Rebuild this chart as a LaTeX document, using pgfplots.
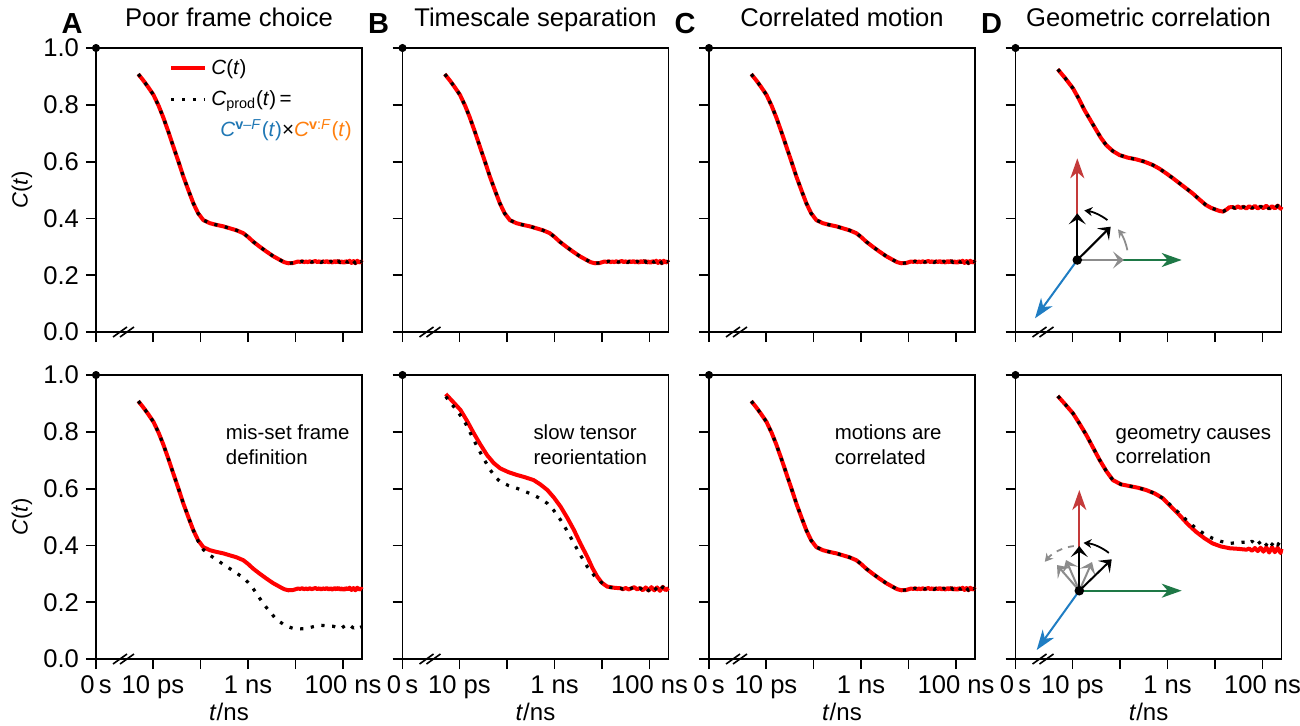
\documentclass[border=0pt]{standalone}
\usepackage{fontspec}
\setmainfont{Liberation Sans}
\usepackage{pgfplots}
\usepackage{pgfplotstable}
\pgfplotsset{compat=1.18}
\usetikzlibrary{arrows.meta}

\definecolor{cblue}{RGB}{31,119,180}
\definecolor{corange}{RGB}{255,127,14}
\definecolor{ared}{RGB}{196,58,58}
\definecolor{agreen}{RGB}{30,120,70}
\definecolor{ablue}{RGB}{31,125,195}
\definecolor{agray}{RGB}{140,140,140}

% x = log10(t/ns); left edge (-3.2) is t = 0 s (axis break)
\pgfplotstableread{
t C
-2.31 0.908
-2.20 0.885
-2.10 0.862
-1.99 0.835
-1.88 0.796
-1.78 0.754
-1.67 0.702
-1.57 0.652
-1.46 0.598
-1.36 0.547
-1.25 0.497
-1.15 0.453
-1.05 0.418
-0.94 0.394
-0.80 0.383
-0.66 0.377
-0.52 0.372
-0.38 0.365
-0.24 0.358
-0.10 0.348
0.00 0.335
0.11 0.318
0.25 0.300
0.39 0.283
0.53 0.267
0.67 0.254
0.76 0.246
0.85 0.242
0.95 0.243
1.05 0.248
1.10 0.247
1.14 0.249
1.18 0.246
1.22 0.248
1.26 0.246
1.30 0.249
1.34 0.246
1.38 0.248
1.42 0.250
1.46 0.246
1.50 0.249
1.54 0.245
1.58 0.249
1.62 0.246
1.66 0.250
1.70 0.245
1.74 0.249
1.78 0.244
1.82 0.250
1.86 0.245
1.90 0.251
1.94 0.244
1.98 0.249
2.02 0.243
2.06 0.250
2.10 0.245
2.14 0.251
2.18 0.243
2.22 0.250
2.26 0.242
2.30 0.251
2.34 0.244
2.38 0.249
2.40 0.245
}\base

\pgfplotstableread{
t C
-2.31 0.908
-2.20 0.885
-2.10 0.862
-1.99 0.835
-1.88 0.796
-1.78 0.754
-1.67 0.702
-1.57 0.652
-1.46 0.598
-1.36 0.547
-1.25 0.497
-1.15 0.453
-1.05 0.415
-0.94 0.385
-0.80 0.365
-0.66 0.350
-0.52 0.333
-0.38 0.318
-0.24 0.302
-0.10 0.287
0.00 0.270
0.11 0.248
0.20 0.225
0.32 0.196
0.45 0.168
0.57 0.145
0.67 0.131
0.80 0.116
0.95 0.108
1.10 0.106
1.24 0.108
1.38 0.114
1.52 0.119
1.65 0.117
1.80 0.115
1.86 0.112
1.92 0.116
1.98 0.110
2.04 0.117
2.10 0.111
2.16 0.117
2.22 0.109
2.28 0.116
2.34 0.110
2.40 0.114
}\Abot

\pgfplotstableread{
t C
-2.29 0.933
-2.15 0.908
-1.98 0.877
-1.84 0.838
-1.70 0.795
-1.56 0.755
-1.42 0.718
-1.28 0.690
-1.14 0.671
-0.97 0.658
-0.79 0.648
-0.62 0.640
-0.44 0.630
-0.30 0.615
-0.15 0.595
-0.01 0.568
0.13 0.536
0.27 0.497
0.41 0.454
0.55 0.405
0.69 0.360
0.80 0.320
0.90 0.290
1.00 0.268
1.11 0.255
1.25 0.251
1.39 0.249
1.44 0.246
1.50 0.250
1.56 0.245
1.62 0.249
1.68 0.253
1.74 0.245
1.80 0.250
1.86 0.242
1.92 0.252
1.98 0.241
2.04 0.253
2.10 0.242
2.16 0.252
2.22 0.240
2.28 0.254
2.34 0.242
2.40 0.250
}\Bbotred

\pgfplotstableread{
t C
-2.29 0.924
-2.10 0.884
-1.91 0.842
-1.77 0.795
-1.63 0.748
-1.49 0.705
-1.35 0.665
-1.24 0.640
-1.14 0.624
-0.97 0.611
-0.79 0.601
-0.62 0.590
-0.44 0.577
-0.30 0.565
-0.15 0.548
-0.01 0.522
0.13 0.489
0.27 0.450
0.41 0.407
0.55 0.365
0.69 0.325
0.83 0.295
0.97 0.272
1.08 0.258
1.18 0.252
1.25 0.251
1.39 0.249
1.44 0.246
1.50 0.250
1.56 0.245
1.62 0.249
1.68 0.253
1.74 0.245
1.80 0.250
1.86 0.242
1.92 0.252
1.98 0.241
2.04 0.253
2.10 0.242
2.16 0.252
2.22 0.240
2.28 0.254
2.34 0.242
2.40 0.250
}\Bbotblack

\pgfplotstableread{
t C
-2.31 0.925
-2.15 0.893
-1.99 0.858
-1.87 0.822
-1.75 0.782
-1.62 0.745
-1.50 0.711
-1.40 0.683
-1.29 0.658
-1.15 0.637
-1.01 0.623
-0.84 0.614
-0.66 0.608
-0.49 0.600
-0.31 0.588
-0.17 0.575
-0.03 0.559
0.11 0.542
0.25 0.524
0.39 0.506
0.53 0.488
0.67 0.467
0.81 0.447
0.92 0.437
1.03 0.430
1.10 0.426
1.17 0.424
1.25 0.432
1.30 0.439
1.37 0.440
1.42 0.436
1.48 0.442
1.54 0.437
1.60 0.441
1.66 0.435
1.72 0.443
1.78 0.436
1.84 0.444
1.90 0.435
1.96 0.442
2.02 0.436
2.08 0.445
2.14 0.434
2.20 0.443
2.26 0.435
2.32 0.445
2.38 0.434
2.40 0.441
}\Dtop

\pgfplotstableread{
t C
-2.31 0.926
-2.15 0.896
-1.99 0.865
-1.85 0.828
-1.71 0.789
-1.57 0.745
-1.43 0.701
-1.29 0.662
-1.15 0.630
-0.98 0.615
-0.80 0.609
-0.62 0.603
-0.45 0.595
-0.27 0.583
-0.10 0.566
0.07 0.541
0.25 0.513
0.42 0.486
0.60 0.460
0.78 0.440
0.95 0.425
1.13 0.414
1.31 0.407
1.48 0.410
1.66 0.412
1.72 0.406
1.78 0.415
1.84 0.405
1.90 0.417
1.96 0.404
2.02 0.415
2.08 0.402
2.14 0.418
2.20 0.403
2.26 0.416
2.32 0.401
2.38 0.417
2.40 0.406
}\Dbotblack

\pgfplotstableread{
t C
-2.31 0.926
-2.15 0.896
-1.99 0.865
-1.85 0.828
-1.71 0.789
-1.57 0.745
-1.43 0.701
-1.29 0.662
-1.15 0.630
-0.98 0.615
-0.80 0.609
-0.62 0.603
-0.45 0.595
-0.27 0.583
-0.10 0.566
0.07 0.537
0.25 0.507
0.42 0.476
0.60 0.448
0.78 0.425
0.95 0.407
1.13 0.396
1.31 0.390
1.48 0.388
1.66 0.385
1.72 0.389
1.78 0.381
1.84 0.391
1.90 0.380
1.96 0.392
2.02 0.378
2.08 0.393
2.14 0.375
2.20 0.394
2.26 0.376
2.32 0.392
2.38 0.373
2.40 0.388
}\Dbotred

\pgfplotsset{
  panel/.style={
    scale only axis, width=133pt, height=142pt,
    xmin=-3.2, xmax=2.4, ymin=0, ymax=1,
    xtick={-3.2,-2,-1,0,1,2}, ytick={0,0.2,0.4,0.6,0.8,1},
    xticklabels={}, yticklabels={},
    tick align=outside, major tick length=5pt,
    xtick pos=bottom, ytick pos=left,
    axis line style={line width=0.9pt},
    every tick/.append style={black, line width=0.9pt},
    tick label style={font=\fontsize{12.8}{14}\selectfont},
    clip=false,
    title style={at={(axis description cs:0.5,1.034)}, anchor=base, font=\fontsize{12.8}{14}\selectfont},
  },
  ylab/.style={
    yticklabels={0.0,0.2,0.4,0.6,0.8,1.0},
    ylabel={\textit{C}(\textit{t})},
    ylabel style={at={(axis description cs:-0.278,0.5)}, anchor=center, font=\fontsize{11}{13}\selectfont},
  },
  xlab/.style={
    xticklabels={0\,s,10 ps,,1 ns,,100 ns},
    xlabel={\textit{t}/ns},
    xlabel style={at={(axis description cs:0.5,-0.186)}, anchor=center, font=\fontsize{12}{14}\selectfont},
  },
  redc/.style={red, line width=2pt, no marks, line join=round},
  blkd/.style={black, line width=1.6pt, no marks, line join=round, dash pattern=on 1.6pt off 3.8pt},
}

\newcommand{\decor}{%
  \addplot[only marks, mark=*, mark size=1.8pt, black] coordinates {(-3.2,1)};
  \draw[line width=0.8pt] (axis cs:-2.842,-0.0176) -- (axis cs:-2.547,0.0176);
  \draw[line width=0.8pt] (axis cs:-2.695,-0.0176) -- (axis cs:-2.40,0.0176);
}
\newcommand{\letter}[1]{\node[font=\bfseries\fontsize{14.5}{16}\selectfont, anchor=base] at (axis description cs:-0.09,1.052) {#1};}
\newcommand{\annot}[2]{\node[align=left, anchor=west, font=\fontsize{10.2}{12.2}\selectfont] at (axis description cs:#1,0.754) {#2};}

\begin{document}
\begin{tikzpicture}
\path[use as bounding box] (0,0) rectangle (650pt,362.5pt);

% ---------- top row ----------
\begin{axis}[panel, ylab, at={(48pt,196.5pt)}, anchor=south west, title={Poor frame choice},
  legend style={draw=none, fill=none, at={(axis description cs:0.274,0.975)}, anchor=north west,
    font=\fontsize{10.3}{12}\selectfont, row sep=2.5pt, inner sep=0pt},
  legend cell align=left,
  legend image code/.code={\draw[#1] (0pt,0pt) -- (17pt,0pt);}]
\addplot[redc] table[x=t,y=C] {\base};
\addlegendentry{\textit{C}(\textit{t})}
\addplot[blkd] table[x=t,y=C] {\base};
\addlegendentry{\textit{C}\textsubscript{prod}(\textit{t})\,=}
\decor
\letter{A}
\node[anchor=west, font=\fontsize{10.3}{12}\selectfont, inner sep=0pt] at (axis description cs:0.466,0.711)
  {{\color{cblue}\textit{C}\textsuperscript{\textbf{v}\textendash\textit{F}}(\textit{t})}×{\color{corange}\textit{C}\textsuperscript{\textbf{v}:\textit{F}}(\textit{t})}};
\end{axis}

\begin{axis}[panel, at={(201.25pt,196.5pt)}, anchor=south west, title={Timescale separation}]
\addplot[redc] table[x=t,y=C] {\base};
\addplot[blkd] table[x=t,y=C] {\base};
\decor
\letter{B}
\end{axis}

\begin{axis}[panel, at={(354.5pt,196.5pt)}, anchor=south west, title={Correlated motion}]
\addplot[redc] table[x=t,y=C] {\base};
\addplot[blkd] table[x=t,y=C] {\base};
\decor
\letter{C}
\end{axis}

\begin{axis}[panel, at={(507.75pt,196.5pt)}, anchor=south west, title={Geometric correlation}]
\addplot[redc] table[x=t,y=C] {\Dtop};
\addplot[blkd] table[x=t,y=C] {\Dtop};
\decor
\letter{D}
\end{axis}

% ---------- bottom row ----------
\begin{axis}[panel, ylab, xlab, at={(48pt,33pt)}, anchor=south west]
\addplot[redc] table[x=t,y=C] {\base};
\addplot[blkd] table[x=t,y=C] {\Abot};
\decor
\annot{0.462}{mis-set frame\\definition}
\end{axis}

\begin{axis}[panel, xlab, at={(201.25pt,33pt)}, anchor=south west]
\addplot[redc] table[x=t,y=C] {\Bbotred};
\addplot[blkd] table[x=t,y=C] {\Bbotblack};
\decor
\annot{0.466}{slow tensor\\reorientation}
\end{axis}

\begin{axis}[panel, xlab, at={(354.5pt,33pt)}, anchor=south west]
\addplot[redc] table[x=t,y=C] {\base};
\addplot[blkd] table[x=t,y=C] {\base};
\decor
\annot{0.447}{motions are\\correlated}
\end{axis}

\begin{axis}[panel, xlab, at={(507.75pt,33pt)}, anchor=south west]
\addplot[redc] table[x=t,y=C] {\Dbotred};
\addplot[blkd] table[x=t,y=C] {\Dbotblack};
\decor
\annot{0.350}{geometry causes\\correlation}
\end{axis}

% ---------- frame diagrams (pixel units, y up) ----------
\begin{scope}[x=0.5pt,y=0.5pt,
  big/.style={line width=1pt, -{Stealth[length=10pt,width=7pt,inset=3pt]}},
  sm/.style={line width=1pt, -{Stealth[length=5.5pt,width=8.5pt,inset=2.5pt]}}]
% top diagram
\draw[big, ared] (1077.3,465) -- (1077.3,566.7);
\draw[big, agreen] (1077.3,465) -- (1181.7,465);
\draw[big, ablue] (1077.3,465) -- (1035,406.7);
\draw[sm, agray] (1077.3,465) -- (1124,465);
\draw[sm, black] (1077.3,465) -- (1077.3,511.7);
\draw[sm, black] (1077.3,465) -- (1110.7,498.3);
\draw[line width=0.9pt, black, -{Stealth[length=4pt,width=4.5pt]}] ([shift={(53:50)}]1077.3,465) arc (53:82:50);
\draw[line width=0.9pt, agray, -{Stealth[length=4pt,width=4.5pt]}] ([shift={(11:51)}]1077.3,465) arc (11:37:51);
\fill (1077.3,465) circle (2.4pt);
% bottom diagram
\draw[big, ared] (1079.3,134.3) -- (1079.3,235);
\draw[big, agreen] (1079.3,134.3) -- (1181.7,134.3);
\draw[big, ablue] (1079.3,134.3) -- (1036.7,75);
\draw[sm, agray] (1079.3,134.3) -- (1057,160);
\draw[sm, agray] (1079.3,134.3) -- (1066,165);
\draw[sm, agray] (1079.3,134.3) -- (1092,163);
\draw[sm, black] (1079.3,134.3) -- (1079.3,179);
\draw[sm, black] (1079.3,134.3) -- (1111.7,165.7);
\draw[line width=0.9pt, black, -{Stealth[length=4pt,width=4.5pt]}] ([shift={(52:48)}]1079.3,134.3) arc (52:85:48);
\draw[line width=0.9pt, agray, dashed, -{Stealth[length=4pt,width=4.5pt]}] ([shift={(97:45)}]1079.3,134.3) arc (97:140:45);
\fill (1079.3,134.3) circle (2.4pt);
\end{scope}
\end{tikzpicture}
\end{document}
